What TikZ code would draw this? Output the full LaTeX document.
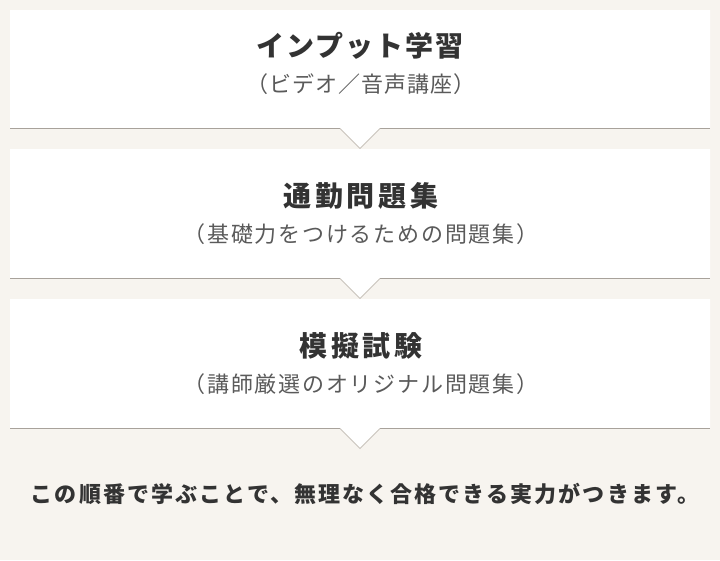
\documentclass[tikz,border=0pt]{standalone}
\usepackage{fontspec}
\newfontfamily\jptitle[LetterSpace=14]{Noto Sans CJK JP}
\newfontfamily\jptitleK[LetterSpace=7]{Noto Sans CJK JP}
\newfontfamily\jpsubA[LetterSpace=5]{Noto Sans CJK JP}
\newfontfamily\jpsubB[LetterSpace=8]{Noto Sans CJK JP}
\newfontfamily\jpfoot[LetterSpace=9.5]{Noto Sans CJK JP}
\definecolor{bg}{HTML}{F7F4EF}
\definecolor{rule}{HTML}{A8A29B}
\definecolor{vrule}{HTML}{C9C3BC}
\definecolor{ttl}{HTML}{333333}
\definecolor{subc}{HTML}{5A5A5A}
\tikzset{
  card/.style={fill=white},
  bottomrule/.style={draw=rule, line width=1pt},
  notchrule/.style={draw=vrule, line width=0.9pt},
  titletext/.style={font=\jptitle\bfseries\fontsize{28}{32}\selectfont, text=ttl, inner sep=0pt},
  titletextK/.style={font=\jptitleK\bfseries\fontsize{28}{32}\selectfont, text=ttl, inner sep=0pt},
  subtextA/.style={font=\jpsubA\fontsize{22}{26}\selectfont, text=subc, inner sep=0pt},
  subtextB/.style={font=\jpsubB\fontsize{22}{26}\selectfont, text=subc, inner sep=0pt},
  foottext/.style={font=\jpfoot\bfseries\fontsize{22}{26}\selectfont, text=ttl, inner sep=0pt},
}
\begin{document}
\begin{tikzpicture}[x=1pt, y=-1pt]
\fill[bg] (0,0) rectangle (720,560);
\useasboundingbox (0,0) rectangle (720,560);
\foreach \yt/\yb in {10/128.5,149/278.5,299/428.5}{
  \pgfmathsetmacro{\ya}{\yb+20}
  \fill[card] (10,\yt) -- (710,\yt) -- (710,\yb) -- (380,\yb) -- (360,\ya) -- (340,\yb) -- (10,\yb) -- cycle;
  \draw[bottomrule] (10,\yb) -- (340,\yb);
  \draw[bottomrule] (380,\yb) -- (710,\yb);
  \draw[notchrule] (340,\yb) -- (360,\ya) -- (380,\yb);
}
\node[titletextK] (t1) at (360,46) {インプット学習};
\node[subtextA] (s1) at (361,84) {（ビデオ／音声講座）};
\node[titletext] (t2) at (361,196) {通勤問題集};
\node[subtextB] (s2) at (361,234) {（基礎力をつけるための問題集）};
\node[titletext] (t3) at (361,346) {模擬試験};
\node[subtextB] (s3) at (361,384) {（講師厳選のオリジナル問題集）};
\node[foottext] (f) at (365,494) {この順番で学ぶことで、無理なく合格できる実力がつきます。};
\end{tikzpicture}
\end{document}
